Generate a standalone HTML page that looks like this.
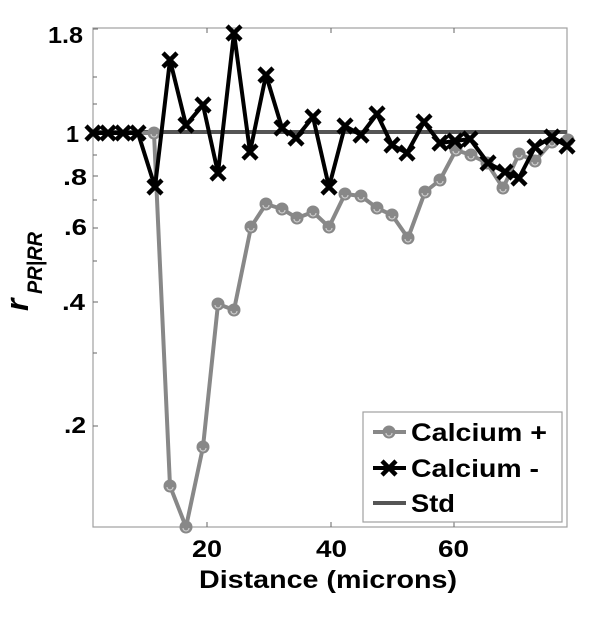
<!DOCTYPE html>
<html><head><meta charset="utf-8"><style>
html,body{margin:0;padding:0;background:#fff;}
svg{display:block;font-family:"Liberation Sans",Arial,sans-serif;font-weight:bold;}
</style></head><body>
<svg width="600" height="637" viewBox="0 0 600 637" xmlns="http://www.w3.org/2000/svg">
<defs>
<g id="xm"><path d="M-7,-7L7,7M-7,7L7,-7" stroke="#000" stroke-width="4.5" fill="none"/></g>
<g id="cm"><circle r="6.5" fill="#888"/><path d="M-3,1 A3,3 0 0 0 3,1" stroke="#ccc" stroke-width="1.2" fill="none"/></g>
</defs>
<rect x="93" y="28" width="474" height="499" fill="none" stroke="#a0a0a0" stroke-width="1.2"/>
<g stroke="#666" stroke-width="1">
<path d="M93,29h5M93,77h4M93,104h4M93,133h5M93,155h4M93,176h5M93,200h4M93,228h5M93,261h4M93,302h5M93,353h4M93,426h5"/>
<path d="M207,527v-5M331,527v-5M454,527v-5M207,28v5M331,28v5M454,28v5"/>
</g>
<g font-size="23" fill="#000" lengthAdjust="spacingAndGlyphs">
<text x="48" y="43" textLength="35" lengthAdjust="spacingAndGlyphs">1.8</text>
<text x="66" y="142" textLength="13" lengthAdjust="spacingAndGlyphs">1</text>
<text x="63" y="185" textLength="24" lengthAdjust="spacingAndGlyphs">.8</text>
<text x="64" y="235" textLength="23" lengthAdjust="spacingAndGlyphs">.6</text>
<text x="62" y="310" textLength="23" lengthAdjust="spacingAndGlyphs">.4</text>
<text x="64" y="433" textLength="22" lengthAdjust="spacingAndGlyphs">.2</text>
</g>
<g font-size="24">
<text x="192" y="557" textLength="30" lengthAdjust="spacingAndGlyphs">20</text>
<text x="316" y="557" textLength="31" lengthAdjust="spacingAndGlyphs">40</text>
<text x="438" y="557" textLength="31" lengthAdjust="spacingAndGlyphs">60</text>
<text x="199" y="588" font-size="25" textLength="258" lengthAdjust="spacingAndGlyphs">Distance (microns)</text>
</g>
<g transform="translate(28,311) rotate(-90)">
<text x="0" y="0" font-size="32" font-style="italic">r</text>
<text x="17" y="14" font-size="21" font-style="italic" textLength="62" lengthAdjust="spacingAndGlyphs">PR|RR</text>
</g>
<line x1="93" y1="132" x2="567" y2="132" stroke="#555" stroke-width="4"/>
<polyline fill="none" stroke="#888" stroke-width="4" stroke-linejoin="round" points="93,133 108,133 123,133 138,133 154,133 170,486 186,527 203,447 218,304 234,310 251,227 266,204 282,209 297,218 313,212 329,227 345,194 361,196 377,208 392,215 408,238 425,192 440,180 456,150 471,155 487,163 503,188 519,154 535,161 552,142 568,140"/>
<g>
<use href="#cm" x="154" y="133"/><use href="#cm" x="170" y="486"/><use href="#cm" x="186" y="527"/><use href="#cm" x="203" y="447"/><use href="#cm" x="218" y="304"/><use href="#cm" x="234" y="310"/><use href="#cm" x="251" y="227"/><use href="#cm" x="266" y="204"/><use href="#cm" x="282" y="209"/><use href="#cm" x="297" y="218"/><use href="#cm" x="313" y="212"/><use href="#cm" x="329" y="227"/><use href="#cm" x="345" y="194"/><use href="#cm" x="361" y="196"/><use href="#cm" x="377" y="208"/><use href="#cm" x="392" y="215"/><use href="#cm" x="408" y="238"/><use href="#cm" x="425" y="192"/><use href="#cm" x="440" y="180"/><use href="#cm" x="456" y="150"/><use href="#cm" x="471" y="155"/><use href="#cm" x="487" y="163"/><use href="#cm" x="503" y="188"/><use href="#cm" x="519" y="154"/><use href="#cm" x="535" y="161"/><use href="#cm" x="552" y="142"/><use href="#cm" x="568" y="140"/>
</g>
<polyline fill="none" stroke="#000" stroke-width="4" stroke-linejoin="round" points="93,133 108,133 123,133 138,133 155,187 170,60 186,125 203,105 218,173 234,33 250,152 266,75 282,128 296,138 313,117 329,187 345,126 361,135 377,114 392,145 407,153 424,122 440,143 455,141 470,139 488,163 505,172 519,178 535,147 552,137 567,146"/>
<g>
<use href="#xm" x="93" y="133"/><use href="#xm" x="108" y="133"/><use href="#xm" x="123" y="133"/><use href="#xm" x="138" y="133"/><use href="#xm" x="155" y="187"/><use href="#xm" x="170" y="60"/><use href="#xm" x="186" y="125"/><use href="#xm" x="203" y="105"/><use href="#xm" x="218" y="173"/><use href="#xm" x="234" y="33"/><use href="#xm" x="250" y="152"/><use href="#xm" x="266" y="75"/><use href="#xm" x="282" y="128"/><use href="#xm" x="296" y="138"/><use href="#xm" x="313" y="117"/><use href="#xm" x="329" y="187"/><use href="#xm" x="345" y="126"/><use href="#xm" x="361" y="135"/><use href="#xm" x="377" y="114"/><use href="#xm" x="392" y="145"/><use href="#xm" x="407" y="153"/><use href="#xm" x="424" y="122"/><use href="#xm" x="440" y="143"/><use href="#xm" x="455" y="141"/><use href="#xm" x="470" y="139"/><use href="#xm" x="488" y="163"/><use href="#xm" x="505" y="172"/><use href="#xm" x="519" y="178"/><use href="#xm" x="535" y="147"/><use href="#xm" x="552" y="137"/><use href="#xm" x="567" y="146"/>
</g>
<rect x="363" y="412" width="199" height="110" fill="#fff" stroke="#a0a0a0" stroke-width="1.2"/>
<line x1="373" y1="432" x2="406" y2="432" stroke="#888" stroke-width="4"/>
<use href="#cm" x="389" y="432"/>
<line x1="373" y1="468" x2="406" y2="468" stroke="#000" stroke-width="4"/>
<use href="#xm" x="389" y="468"/>
<line x1="373" y1="503" x2="406" y2="503" stroke="#555" stroke-width="4"/>
<g font-size="25">
<text x="411" y="441" textLength="136" lengthAdjust="spacingAndGlyphs">Calcium +</text>
<text x="411" y="477" textLength="128" lengthAdjust="spacingAndGlyphs">Calcium -</text>
<text x="411" y="512" textLength="44" lengthAdjust="spacingAndGlyphs">Std</text>
</g>
</svg>
</body></html>
